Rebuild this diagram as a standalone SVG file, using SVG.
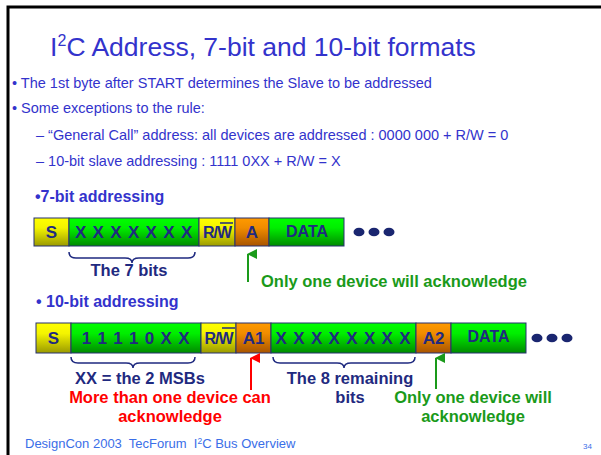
<svg xmlns="http://www.w3.org/2000/svg" width="601" height="455" viewBox="0 0 601 455">
<defs>
<linearGradient id="gy" x1="0" y1="0" x2="0" y2="1"><stop offset="0" stop-color="#ffff00"/><stop offset="0.35" stop-color="#f4f400"/><stop offset="1" stop-color="#9a9a00"/></linearGradient>
<linearGradient id="gg" x1="0" y1="0" x2="0" y2="1"><stop offset="0" stop-color="#00ff00"/><stop offset="0.35" stop-color="#00ee00"/><stop offset="1" stop-color="#008a00"/></linearGradient>
<linearGradient id="go" x1="0" y1="0" x2="0" y2="1"><stop offset="0" stop-color="#ff9a00"/><stop offset="0.35" stop-color="#f08c00"/><stop offset="1" stop-color="#a85400"/></linearGradient>
<marker id="ag" viewBox="0 0 10 10" refX="5" refY="1" markerWidth="10" markerHeight="10" markerUnits="userSpaceOnUse" orient="auto-start-reverse"><path d="M0,10 L5,0 L10,10 Z" fill="#1a9a1a"/></marker>
<marker id="ar" viewBox="0 0 10 10" refX="5" refY="1" markerWidth="10" markerHeight="10" markerUnits="userSpaceOnUse" orient="auto-start-reverse"><path d="M0,10 L5,0 L10,10 Z" fill="#ff0000"/></marker>
</defs>
<style>
text{font-family:"Liberation Sans",Arial,sans-serif}
.b{fill:#3333cc;font-size:14.5px}
.h{fill:#3333cc;font-size:16px;font-weight:bold}
.seg{stroke:#263070;stroke-width:1}
.st{fill:#1f2a80;font-size:17px;font-weight:bold;text-anchor:middle}
.rw{fill:#1f2a80;font-size:16px;font-weight:bold;text-anchor:middle;letter-spacing:-1px}
.dt{fill:#1f2a80;font-size:16px;font-weight:bold;text-anchor:middle}
.xs{letter-spacing:0.8px}
.nv{fill:#1f2a80;font-size:16.5px;font-weight:bold;text-anchor:middle}
.gr{fill:#1a9a1a;font-size:16.5px;font-weight:bold}
.rd{fill:#ff0000;font-size:16.5px;font-weight:bold;text-anchor:middle}
.br{fill:none;stroke:#1f2a80;stroke-width:1.5}
.dot{fill:#1a2670}
</style>
<rect x="0" y="0" width="601" height="455" fill="#ffffff"/>
<path d="M8,455 L8,7 L601,7" fill="none" stroke="#000" stroke-width="3"/>

<g id="title"><text x="263" y="56" font-size="26.5" fill="#3333cc" text-anchor="middle">I<tspan font-size="16" dy="-10">2</tspan><tspan dy="10">C Address, 7-bit and 10-bit formats</tspan></text></g>
<g id="bullets">
<text class="b" x="12" y="88">• The 1st byte after START determines the Slave to be addressed</text>
<text class="b" x="12" y="113">• Some exceptions to the rule:</text>
<text class="b" x="36" y="140">– “General Call” address: all devices are addressed : 0000 000 + R/W = 0</text>
<text class="b" x="36" y="166">– 10-bit slave addressing : 1111 0XX + R/W = X</text>
</g>

<g id="h7"><text class="h" x="35" y="202">•7-bit addressing</text></g>
<g id="row7">
<rect class="seg" x="34" y="218" width="35" height="28" fill="url(#gy)"/><text class="st" x="51.5" y="238">S</text>
<rect class="seg" x="69" y="218" width="130" height="28" fill="url(#gg)"/><text class="st xs" x="134" y="238">X X X X X X X</text>
<rect class="seg" x="199" y="218" width="36" height="28" fill="url(#gy)"/><text class="rw" x="217" y="238">R/W</text><line x1="220" y1="223" x2="233" y2="223" stroke="#1f2a80" stroke-width="1.5"/>
<rect class="seg" x="235" y="218" width="34" height="28" fill="url(#go)"/><text class="st" x="252" y="238">A</text>
<rect class="seg" x="269" y="218" width="75" height="28" fill="url(#gg)"/><text class="dt" x="307" y="236.5">DATA</text>
<ellipse class="dot" cx="359" cy="232" rx="5.5" ry="4.3"/><ellipse class="dot" cx="374" cy="232" rx="5.5" ry="4.3"/><ellipse class="dot" cx="389" cy="232" rx="5.5" ry="4.3"/>
</g>
<g id="brace7"><path class="br" d="M69,252 Q69,258 76,258 L125,258 Q132,258 132,263 Q132,258 139,258 L188,258 Q195,258 195,252"/><text class="nv" x="129" y="276">The 7 bits</text></g>
<g id="note7"><text class="gr" x="261" y="287">Only one device will acknowledge</text></g>

<g id="h10"><text class="h" x="36" y="307">• 10-bit addressing</text></g>
<g id="row10">
<rect class="seg" x="36" y="323" width="35" height="30" fill="url(#gy)"/><text class="st" x="53.5" y="344">S</text>
<rect class="seg" x="71" y="323" width="130" height="30" fill="url(#gg)"/><text class="st xs" x="136" y="344">1 1 1 1 0 X X</text>
<rect class="seg" x="201" y="323" width="35" height="30" fill="url(#gy)"/><text class="rw" x="218.5" y="344">R/W</text><line x1="222" y1="328" x2="235" y2="328" stroke="#1f2a80" stroke-width="1.5"/>
<rect class="seg" x="236" y="323" width="35" height="30" fill="url(#go)"/><text class="st" x="253.5" y="344">A1</text>
<rect class="seg" x="271" y="323" width="145" height="30" fill="url(#gg)"/><text class="st xs" x="343.5" y="344">X X X X X X X X</text>
<rect class="seg" x="416" y="323" width="35" height="30" fill="url(#go)"/><text class="st" x="433.5" y="344">A2</text>
<rect class="seg" x="451" y="323" width="75" height="30" fill="url(#gg)"/><text class="dt" x="488.5" y="342">DATA</text>
<ellipse class="dot" cx="537" cy="338" rx="5.5" ry="4.3"/><ellipse class="dot" cx="552" cy="338" rx="5.5" ry="4.3"/><ellipse class="dot" cx="567" cy="338" rx="5.5" ry="4.3"/>
</g>
<g id="brace10a"><path class="br" d="M71,357 Q71,363 78,363 L126,363 Q133,363 133,368 Q133,363 140,363 L188,363 Q195,363 195,357"/><text class="nv" x="140" y="384">XX = the 2 MSBs</text></g>
<g id="brace10b"><path class="br" d="M273,357 Q273,363 280,363 L337,363 Q344,363 344,368 Q344,363 351,363 L408,363 Q415,363 415,357"/><text class="nv" x="350" y="384">The 8 remaining</text><text class="nv" x="350" y="403">bits</text></g>
<g id="noteA1"><text class="rd" x="170" y="403">More than one device can</text><text class="rd" x="170" y="422">acknowledge</text></g>
<g id="noteA2"><text class="gr" x="473" y="403" text-anchor="middle">Only one device will</text><text class="gr" x="473" y="422" text-anchor="middle">acknowledge</text></g>

<g id="connectors">
<line x1="248" y1="282" x2="248" y2="254" stroke="#1a9a1a" stroke-width="2" marker-end="url(#ag)"/>
<line x1="251" y1="390" x2="251" y2="358" stroke="#ff0000" stroke-width="2" marker-end="url(#ar)"/>
<line x1="436" y1="389" x2="436" y2="358" stroke="#1a9a1a" stroke-width="2" marker-end="url(#ag)"/>
</g>

<g id="footer">
<text x="25" y="448" font-size="13" fill="#3a6ee8" xml:space="preserve">DesignCon 2003  TecForum  I<tspan font-size="8.5" dy="-4.5">2</tspan><tspan dy="4.5">C Bus Overview</tspan></text>
<text x="583" y="449" font-size="8" fill="#3a6ee8">34</text>
</g>
</svg>
